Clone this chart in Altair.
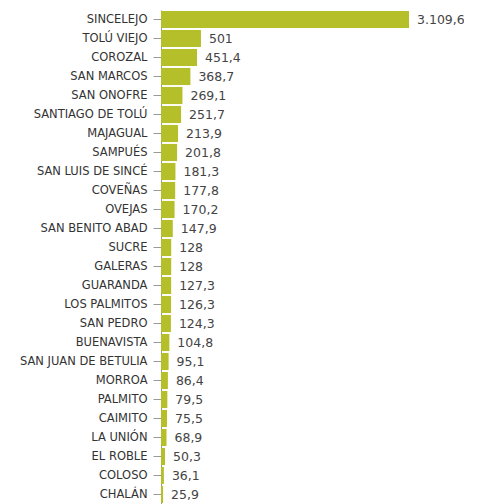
import altair as alt
import pandas as pd

municipios = [
    "SINCELEJO", "TOLÚ VIEJO", "COROZAL", "SAN MARCOS", "SAN ONOFRE",
    "SANTIAGO DE TOLÚ", "MAJAGUAL", "SAMPUÉS", "SAN LUIS DE SINCÉ", "COVEÑAS",
    "OVEJAS", "SAN BENITO ABAD", "SUCRE", "GALERAS", "GUARANDA",
    "LOS PALMITOS", "SAN PEDRO", "BUENAVISTA", "SAN JUAN DE BETULIA", "MORROA",
    "PALMITO", "CAIMITO", "LA UNIÓN", "EL ROBLE", "COLOSO", "CHALÁN",
]
valores = [
    3109.6, 501, 451.4, 368.7, 269.1,
    251.7, 213.9, 201.8, 181.3, 177.8,
    170.2, 147.9, 128, 128, 127.3,
    126.3, 124.3, 104.8, 95.1, 86.4,
    79.5, 75.5, 68.9, 50.3, 36.1, 25.9,
]


def fmt(v):
    if float(v).is_integer():
        s = f"{int(v):,}"
    else:
        s = f"{v:,.1f}"
    return s.replace(",", "X").replace(".", ",").replace("X", ".")


df = pd.DataFrame({
    "municipio": municipios,
    "valor": valores,
    "etiqueta": [fmt(v) for v in valores],
})

y = alt.Y(
    "municipio:N",
    sort=municipios,
    title=None,
    scale=alt.Scale(paddingInner=0.1, paddingOuter=0.05),
    axis=alt.Axis(
        labelFont="DejaVu Sans",
        labelFontSize=11.5,
        labelColor="#333333",
        labelPadding=6,
        tickSize=8,
        tickColor="#999999",
        domainColor="#999999",
    ),
)
x = alt.X(
    "valor:Q",
    axis=None,
    scale=alt.Scale(domain=[0, 3385], nice=False),
)

bars = alt.Chart(df).mark_bar(color="#b5bf2a").encode(x=x, y=y)
text = alt.Chart(df).mark_text(
    align="left", baseline="middle", dx=8,
    font="DejaVu Sans", fontSize=12.5, color="#444444",
).encode(x=x, y=y, text="etiqueta:N")

chart = (bars + text).properties(
    width=270,
    height=494,
    autosize=alt.AutoSizeParams(type="none"),
    padding={"left": 153, "top": 2, "right": 33, "bottom": 0},
).configure_view(stroke=None)

chart.save("out.html", embed_options={"renderer": "svg", "actions": False})
